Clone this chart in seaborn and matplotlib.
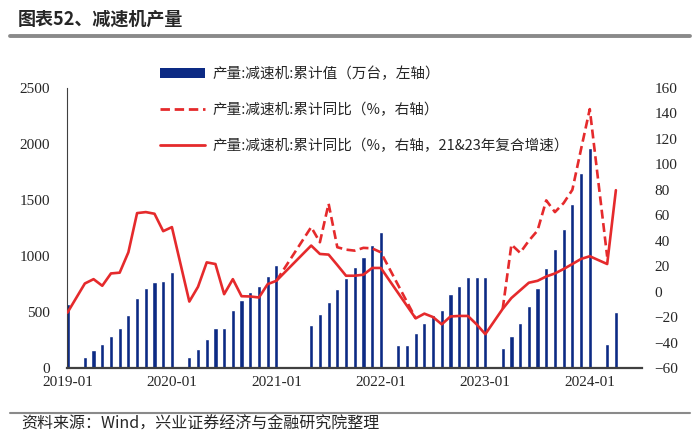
import numpy as np
import pandas as pd
import matplotlib
matplotlib.use("Agg")
import matplotlib.pyplot as plt
from matplotlib.patches import Patch
from matplotlib.lines import Line2D
import seaborn as sns

nan = np.nan

# --- DATA ---
MONTHS = pd.period_range("2019-01", "2024-04", freq="M").strftime("%Y-%m").tolist()
TICK_LABELS = ["2019-01", "2020-01", "2021-01", "2022-01", "2023-01", "2024-01"]

# cumulative output, 10k units (left axis)
output = [
    575, nan, 98, 163, 213, 290, 355, 472, 623, 712, 772, 780,
    861, nan, 94, 172, 255, 353, 353, 520, 609, 683, 736, 824,
    922, nan, nan, nan, 380, 478, 591, 702, 800, 902, 994, 1101,
    1211, nan, 208, 208, 311, 400, 475, 520, 662, 736, 811, 811,
    811, nan, 178, 282, 401, 558, 716, 891, 1061, 1244, 1464, 1738,
    1961, nan, 217, 496,
]

# cumulative yoy %, 2-year compound growth for 2021 & 2023 (right axis)
yoy_cagr = [
    -16.5, nan, 6.4, 9.8, 4.6, 14.3, 14.9, 30.9, 61.7, 62.5, 61.2, 47.5,
    50.7, nan, -7.8, 3.8, 23.0, 21.7, -2.0, 9.8, -3.6, -3.8, -4.6, 5.9,
    8.5, nan, nan, nan, 36.2, 29.6, 29.1, 20.9, 12.5, 12.5, 13.3, 18.6,
    18.6, nan, nan, nan, -21.0, -17.3, -20.0, -25.7, -19.5, -19.1, -19.1, -25.7,
    -33.4, nan, -13.5, -5.0, 1.0, 7.0, 8.5, 11.9, 14.3, 17.8, 21.7, 25.7,
    27.8, nan, 21.7, 79.7,
]

# plain cumulative yoy % (dashed, only where it differs from the line above)
yoy_raw = [
    nan, nan, nan, nan, nan, nan, nan, nan, nan, nan, nan, nan,
    nan, nan, nan, nan, nan, nan, nan, nan, nan, nan, nan, nan,
    8.5, nan, nan, nan, 50.7, 38.8, 69.1, 34.9, 33.0, 32.2, 34.4, 34.0,
    30.9, nan, nan, nan, -21.0, nan, nan, nan, nan, nan, nan, nan,
    nan, nan, -13.5, 37.0, 30.5, 40.0, 48.0, 71.7, 62.5, 69.6, 80.0, 112.0,
    143.4, nan, 27.5, nan,
]

LABELS = [
    "产量:减速机:累计值（万台，左轴）",
    "产量:减速机:累计同比（%，右轴）",
    "产量:减速机:累计同比（%，右轴，21&23年复合增速）",
]

NAVY = "#0c2a84"
RED = "#e52a2c"
SERIF = "Liberation Serif"

df = pd.DataFrame({
    "month": MONTHS,
    "pos": np.arange(len(MONTHS)),
    "output": output,
    "yoy_cagr": yoy_cagr,
    "yoy_raw": yoy_raw,
})
df["seg"] = np.where(df["month"] < "2022-12", "a", "b")

sns.set_theme(style="white")
plt.rcParams["font.family"] = ["Noto Sans CJK SC", "DejaVu Sans"]

fig = plt.figure(figsize=(7.0, 4.41), dpi=100)
ax = fig.add_axes([67 / 700, 1 - 368 / 441, (642 - 67) / 700, (368 - 88) / 441])

bars = df.dropna(subset=["output"])
sns.barplot(data=bars, x="pos", y="output", native_scale=True, color=NAVY,
            width=0.48, errorbar=None, saturation=1, ax=ax)

ax2 = ax.twinx()
raw = df.dropna(subset=["yoy_raw"])
sns.lineplot(data=raw, x="pos", y="yoy_raw", units="seg", estimator=None,
             color=RED, lw=1.9, linestyle=(0, (3.4, 1.7)), ax=ax2)
cagr = df.dropna(subset=["yoy_cagr"])
sns.lineplot(data=cagr, x="pos", y="yoy_cagr", estimator=None,
             color=RED, lw=1.9, ax=ax2)

ax.set_xlim(-0.05, 66)
ax.set_ylim(0, 2500)
ax.set_yticks(np.arange(0, 2501, 500))
ax2.set_ylim(-60, 160)
ax2.set_yticks(np.arange(-60, 161, 20))

tick_pos = [MONTHS.index(t) for t in TICK_LABELS]
ax.set_xticks(tick_pos)
ax.set_xticklabels(TICK_LABELS)
ax.set_xlabel("")
ax.set_ylabel("")
ax2.set_xlabel("")
ax2.set_ylabel("")

ax.tick_params(axis="x", length=0, pad=6)
ax.tick_params(axis="y", length=0, pad=12)
ax2.tick_params(axis="y", length=0, pad=9)
for lbl in ax.get_xticklabels() + ax.get_yticklabels() + ax2.get_yticklabels():
    lbl.set_fontfamily(SERIF)
    lbl.set_fontsize(11)

for a in (ax, ax2):
    a.grid(False)
    for s in ("top", "right"):
        a.spines[s].set_visible(False)
ax2.spines["left"].set_visible(False)
ax2.spines["bottom"].set_visible(False)
ax.spines["bottom"].set_color("#404040")
ax.spines["bottom"].set_linewidth(1.6)
ax.spines["left"].set_color("#404040")
ax.spines["left"].set_linewidth(0.8)
ax.set_facecolor("none")

handles = [
    Patch(facecolor=NAVY, edgecolor="none"),
    Line2D([], [], color=RED, lw=2.0, linestyle=(0, (3.4, 1.7))),
    Line2D([], [], color=RED, lw=2.0),
]
fig.legend(handles, LABELS, loc="upper left", bbox_to_anchor=(0.218, 0.866),
           frameon=False, fontsize=10.5, handlelength=3.1, handleheight=0.7,
           handletextpad=0.5, labelspacing=1.5, borderpad=0)

# title and source note
fig.text(0.026, 1 - 19 / 441, "图表52、减速机产量", fontsize=13, fontweight="bold",
         va="center", ha="left")
fig.add_artist(Line2D([10 / 700, 690 / 700], [1 - 35.5 / 441] * 2,
                      color="#8a8a8a", lw=2.8, transform=fig.transFigure))
fig.add_artist(Line2D([10 / 700, 690 / 700], [1 - 413 / 441] * 2,
                      color="#8a8a8a", lw=1.5, transform=fig.transFigure))
fig.text(0.03, 1 - 424 / 441, "资料来源：Wind，兴业证券经济与金融研究院整理",
         fontsize=11.5, va="center", ha="left")

fig.savefig("out.png", dpi=100)
